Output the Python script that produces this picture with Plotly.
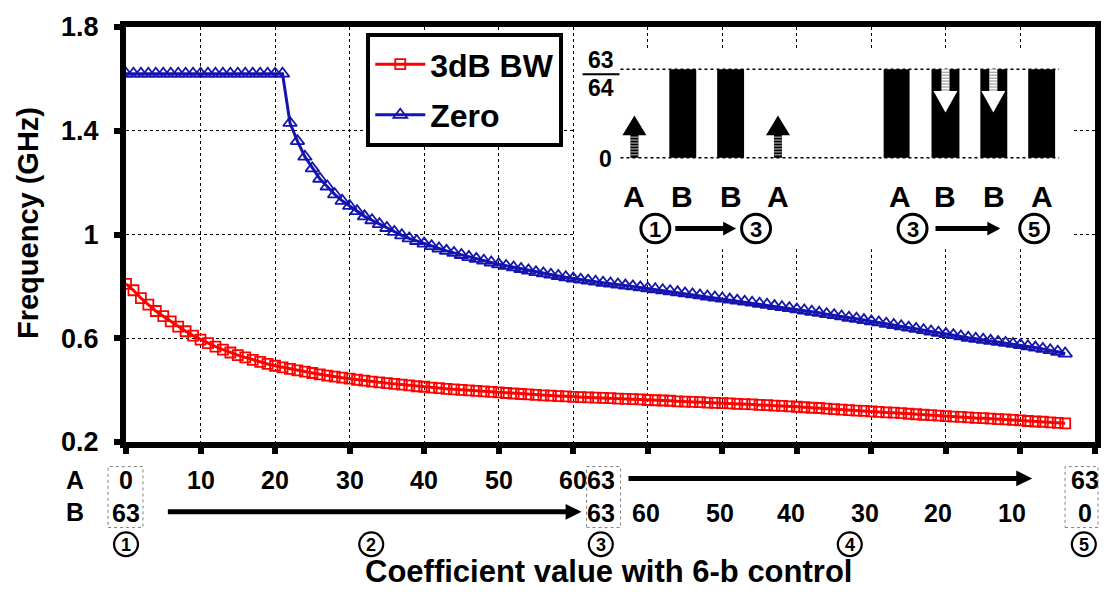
import plotly.graph_objects as go

# ---------------- data ----------------
# Phase 1->3 : A goes 0..63 with B fixed at 63 (index 0..63)
# Phase 3->5 : B goes 62..0 with A fixed at 63 (index 64..126)
bw_A = [0.81, 0.785, 0.755, 0.73, 0.705, 0.685, 0.665, 0.645, 0.627, 0.61,
        0.595, 0.581, 0.568, 0.556, 0.545, 0.535, 0.526, 0.517, 0.509, 0.501,
        0.494, 0.488, 0.482, 0.476, 0.471, 0.466, 0.461, 0.456, 0.452, 0.448,
        0.444, 0.44, 0.437, 0.433, 0.43, 0.427, 0.424, 0.421, 0.418, 0.415,
        0.413, 0.41, 0.408, 0.405, 0.403, 0.401, 0.399, 0.397, 0.395, 0.393,
        0.391, 0.389, 0.387, 0.385, 0.384, 0.382, 0.38, 0.379, 0.377, 0.376,
        0.374, 0.373, 0.372, 0.371]
bw_B = [0.370, 0.369, 0.367, 0.366, 0.365, 0.364, 0.362, 0.361, 0.36, 0.359,
        0.357, 0.356, 0.355, 0.354, 0.352, 0.351, 0.35, 0.349, 0.347, 0.346,
        0.345, 0.343, 0.342, 0.340, 0.339, 0.337, 0.336, 0.334, 0.332, 0.331,
        0.329, 0.327, 0.325, 0.323, 0.321, 0.32, 0.318, 0.316, 0.314, 0.313,
        0.311, 0.309, 0.307, 0.305, 0.304, 0.302, 0.3, 0.298, 0.297, 0.295,
        0.293, 0.292, 0.29, 0.288, 0.287, 0.285, 0.283, 0.281, 0.279, 0.278,
        0.276, 0.274, 0.272]
zero_A = [1.62, 1.62, 1.62, 1.62, 1.62, 1.62, 1.62, 1.62, 1.62, 1.62,
          1.62, 1.62, 1.62, 1.62, 1.62, 1.62, 1.62, 1.62, 1.62, 1.62,
          1.62, 1.62, 1.43, 1.36, 1.30, 1.255, 1.215, 1.185, 1.155, 1.13,
          1.11, 1.09, 1.07, 1.055, 1.04, 1.025, 1.01, 0.997, 0.985, 0.975,
          0.965, 0.955, 0.946, 0.937, 0.929, 0.921, 0.913, 0.906, 0.899, 0.892,
          0.885, 0.879, 0.873, 0.867, 0.861, 0.855, 0.85, 0.845, 0.84, 0.835,
          0.83, 0.826, 0.822, 0.818]
zero_B = [0.814, 0.811, 0.807, 0.803, 0.8, 0.796, 0.792, 0.789, 0.785, 0.781,
          0.777, 0.773, 0.769, 0.765, 0.761, 0.757, 0.753, 0.749, 0.745, 0.741,
          0.737, 0.733, 0.729, 0.724, 0.72, 0.716, 0.711, 0.707, 0.702, 0.698,
          0.693, 0.689, 0.684, 0.679, 0.675, 0.67, 0.665, 0.661, 0.656, 0.651,
          0.646, 0.641, 0.636, 0.631, 0.626, 0.621, 0.616, 0.612, 0.607, 0.602,
          0.598, 0.594, 0.59, 0.586, 0.582, 0.578, 0.574, 0.569, 0.564, 0.559,
          0.554, 0.548, 0.541]

bw = bw_A + bw_B
zero = zero_A + zero_B
step = list(range(len(bw)))

y_ticks = [0.2, 0.6, 1.0, 1.4, 1.8]
y_ticktext = ["0.2", "0.6", "1", "1.4", "1.8"]
x_ticks = [0, 10, 20, 30, 40, 50, 60, 70, 80, 90, 100, 110, 120, 130]

# bottom label rows (text, x position in step units)
row_A = [("0", 0), ("10", 10), ("20", 20), ("30", 30), ("40", 40), ("50", 50),
         ("60", 60), ("63", 63.7), ("63", 128.6)]
row_B = [("63", 0), ("63", 63.7), ("60", 69.8), ("50", 79.7), ("40", 89.2),
         ("30", 99.1), ("20", 108.9), ("10", 118.9), ("0", 128.6)]
row_C = [("1", 0), ("2", 32.9), ("3", 63.7), ("4", 97.1), ("5", 128.5)]

# ---------------- geometry helpers ----------------
W, H = 1113, 594
L, R, T, B = 126, 1098, 20, 442
XMAX = 130.0


def px(x):
    return (x - L) / (R - L)


def py(y):
    return (B - y) / (B - T)


def sx(v):  # step units -> paper
    return v / XMAX


BOLD = "Liberation Sans"

fig = go.Figure()
fig.add_trace(go.Scatter(
    x=step, y=bw, name="3dB BW", mode="lines+markers",
    line=dict(color="#FF0000", width=3),
    marker=dict(symbol="square-open", size=10, color="#FF0000", line=dict(width=1.8)),
    legendgroup="a"))
fig.add_trace(go.Scatter(
    x=step, y=zero, name="Zero", mode="lines+markers",
    line=dict(color="#1414AF", width=3),
    marker=dict(symbol="triangle-up-open", size=12, color="#1414AF", line=dict(width=1.8)),
    legendgroup="b"))

shapes = []
ann = []


def bfont(size):
    return dict(family=BOLD, size=size, color="black", weight="bold")


# ---------- inset white box ----------
shapes.append(dict(type="rect", xref="paper", yref="paper", x0=px(576), x1=px(1076),
                   y0=py(246), y1=py(44), fillcolor="white", line=dict(width=0), layer="above"))
for yy in (63, 153):
    shapes.append(dict(type="line", xref="paper", yref="paper", x0=px(622), x1=px(1062),
                       y0=py(yy), y1=py(yy), line=dict(color="black", width=1.5, dash="dot"),
                       layer="above"))
for x0, x1 in [(671, 698), (719, 746), (886, 912), (934, 962), (983, 1010), (1031, 1058)]:
    shapes.append(dict(type="rect", xref="paper", yref="paper", x0=px(x0), x1=px(x1),
                       y0=py(153), y1=py(63), fillcolor="black", line=dict(width=0), layer="above"))


def tri(pts, color):
    d = "M" + " L".join(f"{px(a):.5f},{py(b):.5f}" for a, b in pts) + " Z"
    return dict(type="path", xref="paper", yref="paper", path=d, fillcolor=color,
                line=dict(width=0), layer="above")


def circ(cx, cy, r, lw):
    return dict(type="circle", xref="paper", yref="paper", x0=px(cx - r), x1=px(cx + r),
                y0=py(cy + r), y1=py(cy - r), line=dict(color="black", width=lw),
                fillcolor="rgba(0,0,0,0)", layer="above")


for cx in (636, 780):
    shapes.append(dict(type="rect", xref="paper", yref="paper", x0=px(cx - 4), x1=px(cx + 4),
                       y0=py(153), y1=py(129), fillcolor="black", line=dict(width=0), layer="above"))
    for yy in range(132, 153, 3):
        shapes.append(dict(type="line", xref="paper", yref="paper", x0=px(cx - 4), x1=px(cx + 4),
                           y0=py(yy), y1=py(yy), line=dict(color="#cccccc", width=1), layer="above"))
    shapes.append(tri([(cx - 12, 130), (cx + 12, 130), (cx, 110)], "black"))
for cx in (948, 996):
    shapes.append(dict(type="rect", xref="paper", yref="paper", x0=px(cx - 4), x1=px(cx + 4),
                       y0=py(86), y1=py(63), fillcolor="white", line=dict(width=0), layer="above"))
    for yy in range(66, 86, 3):
        shapes.append(dict(type="line", xref="paper", yref="paper", x0=px(cx - 4), x1=px(cx + 4),
                           y0=py(yy), y1=py(yy), line=dict(color="#888888", width=1), layer="above"))
    shapes.append(tri([(cx - 12, 85), (cx + 12, 85), (cx, 107)], "white"))

# fraction 63/64 and 0
ann.append(dict(text="63", x=px(602), y=py(54), font=bfont(23)))
ann.append(dict(text="64", x=px(602), y=py(82), font=bfont(23)))
shapes.append(dict(type="line", xref="paper", yref="paper", x0=px(584), x1=px(621),
                   y0=py(68), y1=py(68), line=dict(color="black", width=2), layer="above"))
ann.append(dict(text="0", x=px(607), y=py(154), font=bfont(23)))

for t, xx in [("A", 636), ("B", 684), ("B", 733), ("A", 780),
              ("A", 902), ("B", 948), ("B", 997), ("A", 1045)]:
    ann.append(dict(text=t, x=px(xx), y=py(192), font=bfont(30)))
for t, xx in [("1", 657), ("3", 758), ("3", 915), ("5", 1037)]:
    shapes.append(circ(xx, 225, 14.5, 3))
    ann.append(dict(text=t, x=px(xx), y=py(226), font=bfont(22)))


def harrow(x0, x1, y, lw=5, hl=13, hh=7):
    shapes.append(dict(type="line", xref="paper", yref="paper", x0=px(x0), x1=px(x1 - hl + 2),
                       y0=py(y), y1=py(y), line=dict(color="black", width=lw), layer="above"))
    shapes.append(tri([(x1 - hl, y - hh), (x1 - hl, y + hh), (x1, y)], "black"))


harrow(677, 738, 225)
harrow(938, 1003, 225)

# ---------- bottom label rows ----------
ann.append(dict(text="A", x=px(75), y=py(481), font=bfont(25)))
ann.append(dict(text="B", x=px(75), y=py(513), font=bfont(25)))
for t, v in row_A:
    ann.append(dict(text=t, x=sx(v), y=py(481), font=bfont(25)))
for t, v in row_B:
    ann.append(dict(text=t, x=sx(v), y=py(514), font=bfont(25)))
for t, v in row_C:
    cx = L + v / XMAX * (R - L)
    shapes.append(circ(cx, 546, 12, 2.2))
    ann.append(dict(text=t, x=sx(v), y=py(547), font=bfont(18)))
harrow(168, 583, 513, lw=5, hl=16, hh=8)
harrow(630, 1035, 479, lw=5, hl=16, hh=8)
for x0, x1 in [(108, 143), (588, 622), (1068, 1101)]:
    shapes.append(dict(type="rect", xref="paper", yref="paper", x0=px(x0), x1=px(x1),
                       y0=py(529), y1=py(467), line=dict(color="#808080", width=1, dash="dot")))

# titles
ann.append(dict(text="Coefficient value with 6-b control", x=px(610), y=py(574), font=bfont(31)))
ann.append(dict(text="Frequency (GHz)", x=px(27), y=py(219), textangle=-90, font=bfont(29)))

for a in ann:
    a.update(xref="paper", yref="paper", showarrow=False, xanchor="center", yanchor="middle")

fig.update_layout(
    width=W, height=H, margin=dict(l=L, r=W - R, t=T, b=H - B),
    paper_bgcolor="white", plot_bgcolor="white",
    shapes=shapes, annotations=ann,
    showlegend=True,
    legend=dict(x=px(367), y=py(26), xanchor="left", yanchor="top",
                bgcolor="white", bordercolor="black", borderwidth=4,
                font=bfont(32), tracegroupgap=6, itemwidth=50),
    font=dict(family=BOLD, color="black"),
)
fig.update_xaxes(range=[0, XMAX], tickvals=x_ticks, showticklabels=False,
                 showline=True, linewidth=6, linecolor="black", mirror=True,
                 ticks="outside", ticklen=6, tickwidth=6, tickcolor="black",
                 showgrid=True, gridcolor="black", gridwidth=1, griddash="dot", zeroline=False)
fig.update_yaxes(range=[0.2, 1.8], tickvals=y_ticks, ticktext=y_ticktext,
                 showline=True, linewidth=6, linecolor="black", mirror=True,
                 ticks="outside", ticklen=6, tickwidth=6, tickcolor="black",
                 tickfont=bfont(27), ticklabelstandoff=10,
                 showgrid=True, gridcolor="black", gridwidth=1, griddash="dot", zeroline=False)

fig.write_html("out.html")
